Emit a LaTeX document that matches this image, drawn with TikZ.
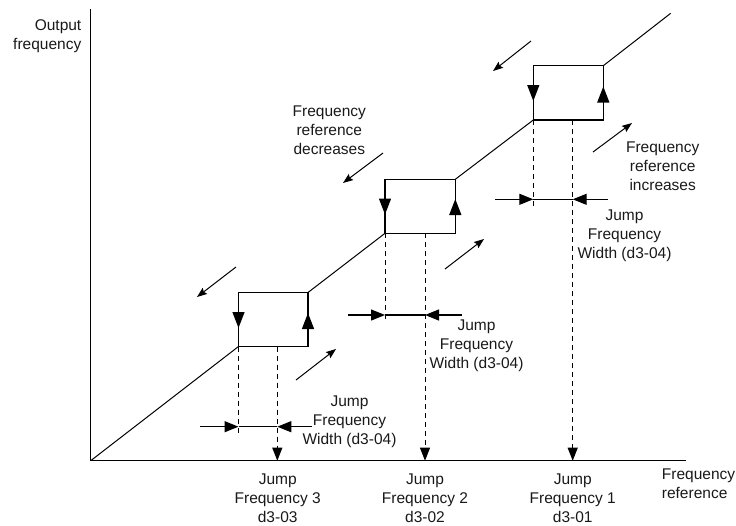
\documentclass[tikz,border=0pt]{standalone}
\usepackage{fontspec}
\setmainfont{Liberation Sans}
\usetikzlibrary{arrows.meta}
\begin{document}
\begin{tikzpicture}[x=1pt,y=-1pt,
  lbl/.style={font=\fontsize{15.5}{19}\selectfont, align=center, inner sep=0pt, text=black!90},
  axisline/.style={line width=1.3pt},
  boxline/.style={line width=1.3pt},
  diagline/.style={line width=1pt},
  dashv/.style={line width=1pt, dash pattern=on 5pt off 4pt},
  dashtip/.style={dashv, -{Triangle[length=13pt,width=10pt]}},
  sidetip/.style={boxline, -{Triangle[length=16pt,width=12pt]}},
  widthtip/.style={line width=1.2pt, -{Triangle[length=14pt,width=11pt]}},
  dirarrow/.style={line width=1pt, -{Stealth[length=10pt,width=7.5pt,inset=1.5pt]}}
]
\useasboundingbox (0,0) rectangle (736,525);

% axes
\coordinate (O) at (90.7,460.7);
\coordinate (Ytop) at (90.7,9);
\coordinate (Xend) at (686,460.7);
\draw[axisline] (Ytop) -- (O) -- (Xend);

% box corners
\coordinate (b3bl) at (238.5,346.5); \coordinate (b3tr) at (308,292.5);
\coordinate (b3tl) at (238.5,292.5); \coordinate (b3br) at (308,346.5);
\coordinate (b2bl) at (385,233.3);   \coordinate (b2tr) at (455.3,179.3);
\coordinate (b2tl) at (385,179.3);   \coordinate (b2br) at (455.3,233.3);
\coordinate (b1bl) at (533.3,120);   \coordinate (b1tr) at (603.3,65.7);
\coordinate (b1tl) at (533.3,65.7);  \coordinate (b1br) at (603.3,120);
\coordinate (Lend) at (670.7,13.3);

\draw[boxline] (b3bl) rectangle (b3tr);
\draw[boxline] (b2bl) rectangle (b2tr);
\draw[boxline] (b1bl) rectangle (b1tr);

% diagonal characteristic
\draw[diagline] (O) -- (b3bl);
\draw[diagline] (b3tr) -- (b2bl);
\draw[diagline] (b2tr) -- (b1bl);
\draw[diagline] (b1tr) -- (Lend);

% arrows on box sides
\coordinate (s3l) at (238.5,328);  \coordinate (s3r) at (308,313);
\coordinate (s2l) at (385,214.5);  \coordinate (s2r) at (455.3,199);
\coordinate (s1l) at (533.3,101);  \coordinate (s1r) at (603.3,86.5);
\draw[sidetip] (b3tl) -- (s3l);
\draw[sidetip] (b3br) -- (s3r);
\draw[sidetip] (b2tl) -- (s2l);
\draw[sidetip] (b2br) -- (s2r);
\draw[sidetip] (b1tl) -- (s1l);
\draw[sidetip] (b1br) -- (s1r);

% dashed lines
\coordinate (m3) at (277.3,346.5); \coordinate (j3a) at (277.3,460.7);
\coordinate (m2) at (425,233.3);   \coordinate (j2a) at (425,460.7);
\coordinate (m1) at (572.7,120);   \coordinate (j1a) at (572.7,460.7);
\coordinate (d3e) at (238.5,435);
\coordinate (d2e) at (385,323);
\coordinate (d1e) at (533.3,208);
\draw[dashv] (b3bl) -- (d3e);
\draw[dashv] (b2bl) -- (d2e);
\draw[dashv] (b1bl) -- (d1e);
\draw[dashtip] (m3) -- (j3a);
\draw[dashtip] (m2) -- (j2a);
\draw[dashtip] (m1) -- (j1a);

% jump width arrows
\coordinate (w3a) at (200,426.7);   \coordinate (w3l) at (238.5,426.7);
\coordinate (w3r) at (277.3,426.7); \coordinate (w3b) at (311.7,426.7);
\coordinate (w2a) at (348,315);     \coordinate (w2l) at (385,315);
\coordinate (w2r) at (425,315);     \coordinate (w2b) at (461.7,315);
\coordinate (w1a) at (495,199.3);   \coordinate (w1l) at (533.3,199.3);
\coordinate (w1r) at (572.7,199.3); \coordinate (w1b) at (608,199.3);
\draw[line width=1.2pt] (w3l) -- (w3r);
\draw[line width=1.2pt] (w2l) -- (w2r);
\draw[line width=1.2pt] (w1l) -- (w1r);
\draw[widthtip] (w3a) -- (w3l);
\draw[widthtip] (w3b) -- (w3r);
\draw[widthtip] (w2a) -- (w2l);
\draw[widthtip] (w2b) -- (w2r);
\draw[widthtip] (w1a) -- (w1l);
\draw[widthtip] (w1b) -- (w1r);

% direction arrows
\coordinate (a1s) at (531,41);   \coordinate (a1e) at (493,71);
\coordinate (a2s) at (593,152);  \coordinate (a2e) at (632,123);
\coordinate (a3s) at (383,153);  \coordinate (a3e) at (343,183);
\coordinate (a4s) at (236,267);  \coordinate (a4e) at (197,297);
\coordinate (a5s) at (445,269);  \coordinate (a5e) at (484,239);
\coordinate (a6s) at (296,380);  \coordinate (a6e) at (336,349);
\draw[dirarrow] (a1s) -- (a1e);
\draw[dirarrow] (a2s) -- (a2e);
\draw[dirarrow] (a3s) -- (a3e);
\draw[dirarrow] (a4s) -- (a4e);
\draw[dirarrow] (a5s) -- (a5e);
\draw[dirarrow] (a6s) -- (a6e);

% labels
\node[lbl, anchor=east, align=right] (ylab) at (81.5,36) {Output\\frequency};
\node[lbl, anchor=west, align=left] (xlab) at (661.7,484) {Frequency\\reference};
\node[lbl] (dec) at (329.3,130) {Frequency\\reference\\decreases};
\node[lbl] (inc) at (662.7,166) {Frequency\\reference\\increases};
\node[lbl] (wid1) at (624.5,236) {Jump\\Frequency\\Width (d3-04)};
\node[lbl] (wid2) at (476.5,345.5) {Jump\\Frequency\\Width (d3-04)};
\node[lbl] (wid3) at (349.5,421.5) {Jump\\Frequency\\Width (d3-04)};
\node[lbl] (jf3) at (277.7,498) {Jump\\Frequency 3\\d3-03};
\node[lbl] (jf2) at (425,498) {Jump\\Frequency 2\\d3-02};
\node[lbl] (jf1) at (572.7,498) {Jump\\Frequency 1\\d3-01};
\end{tikzpicture}
\end{document}
